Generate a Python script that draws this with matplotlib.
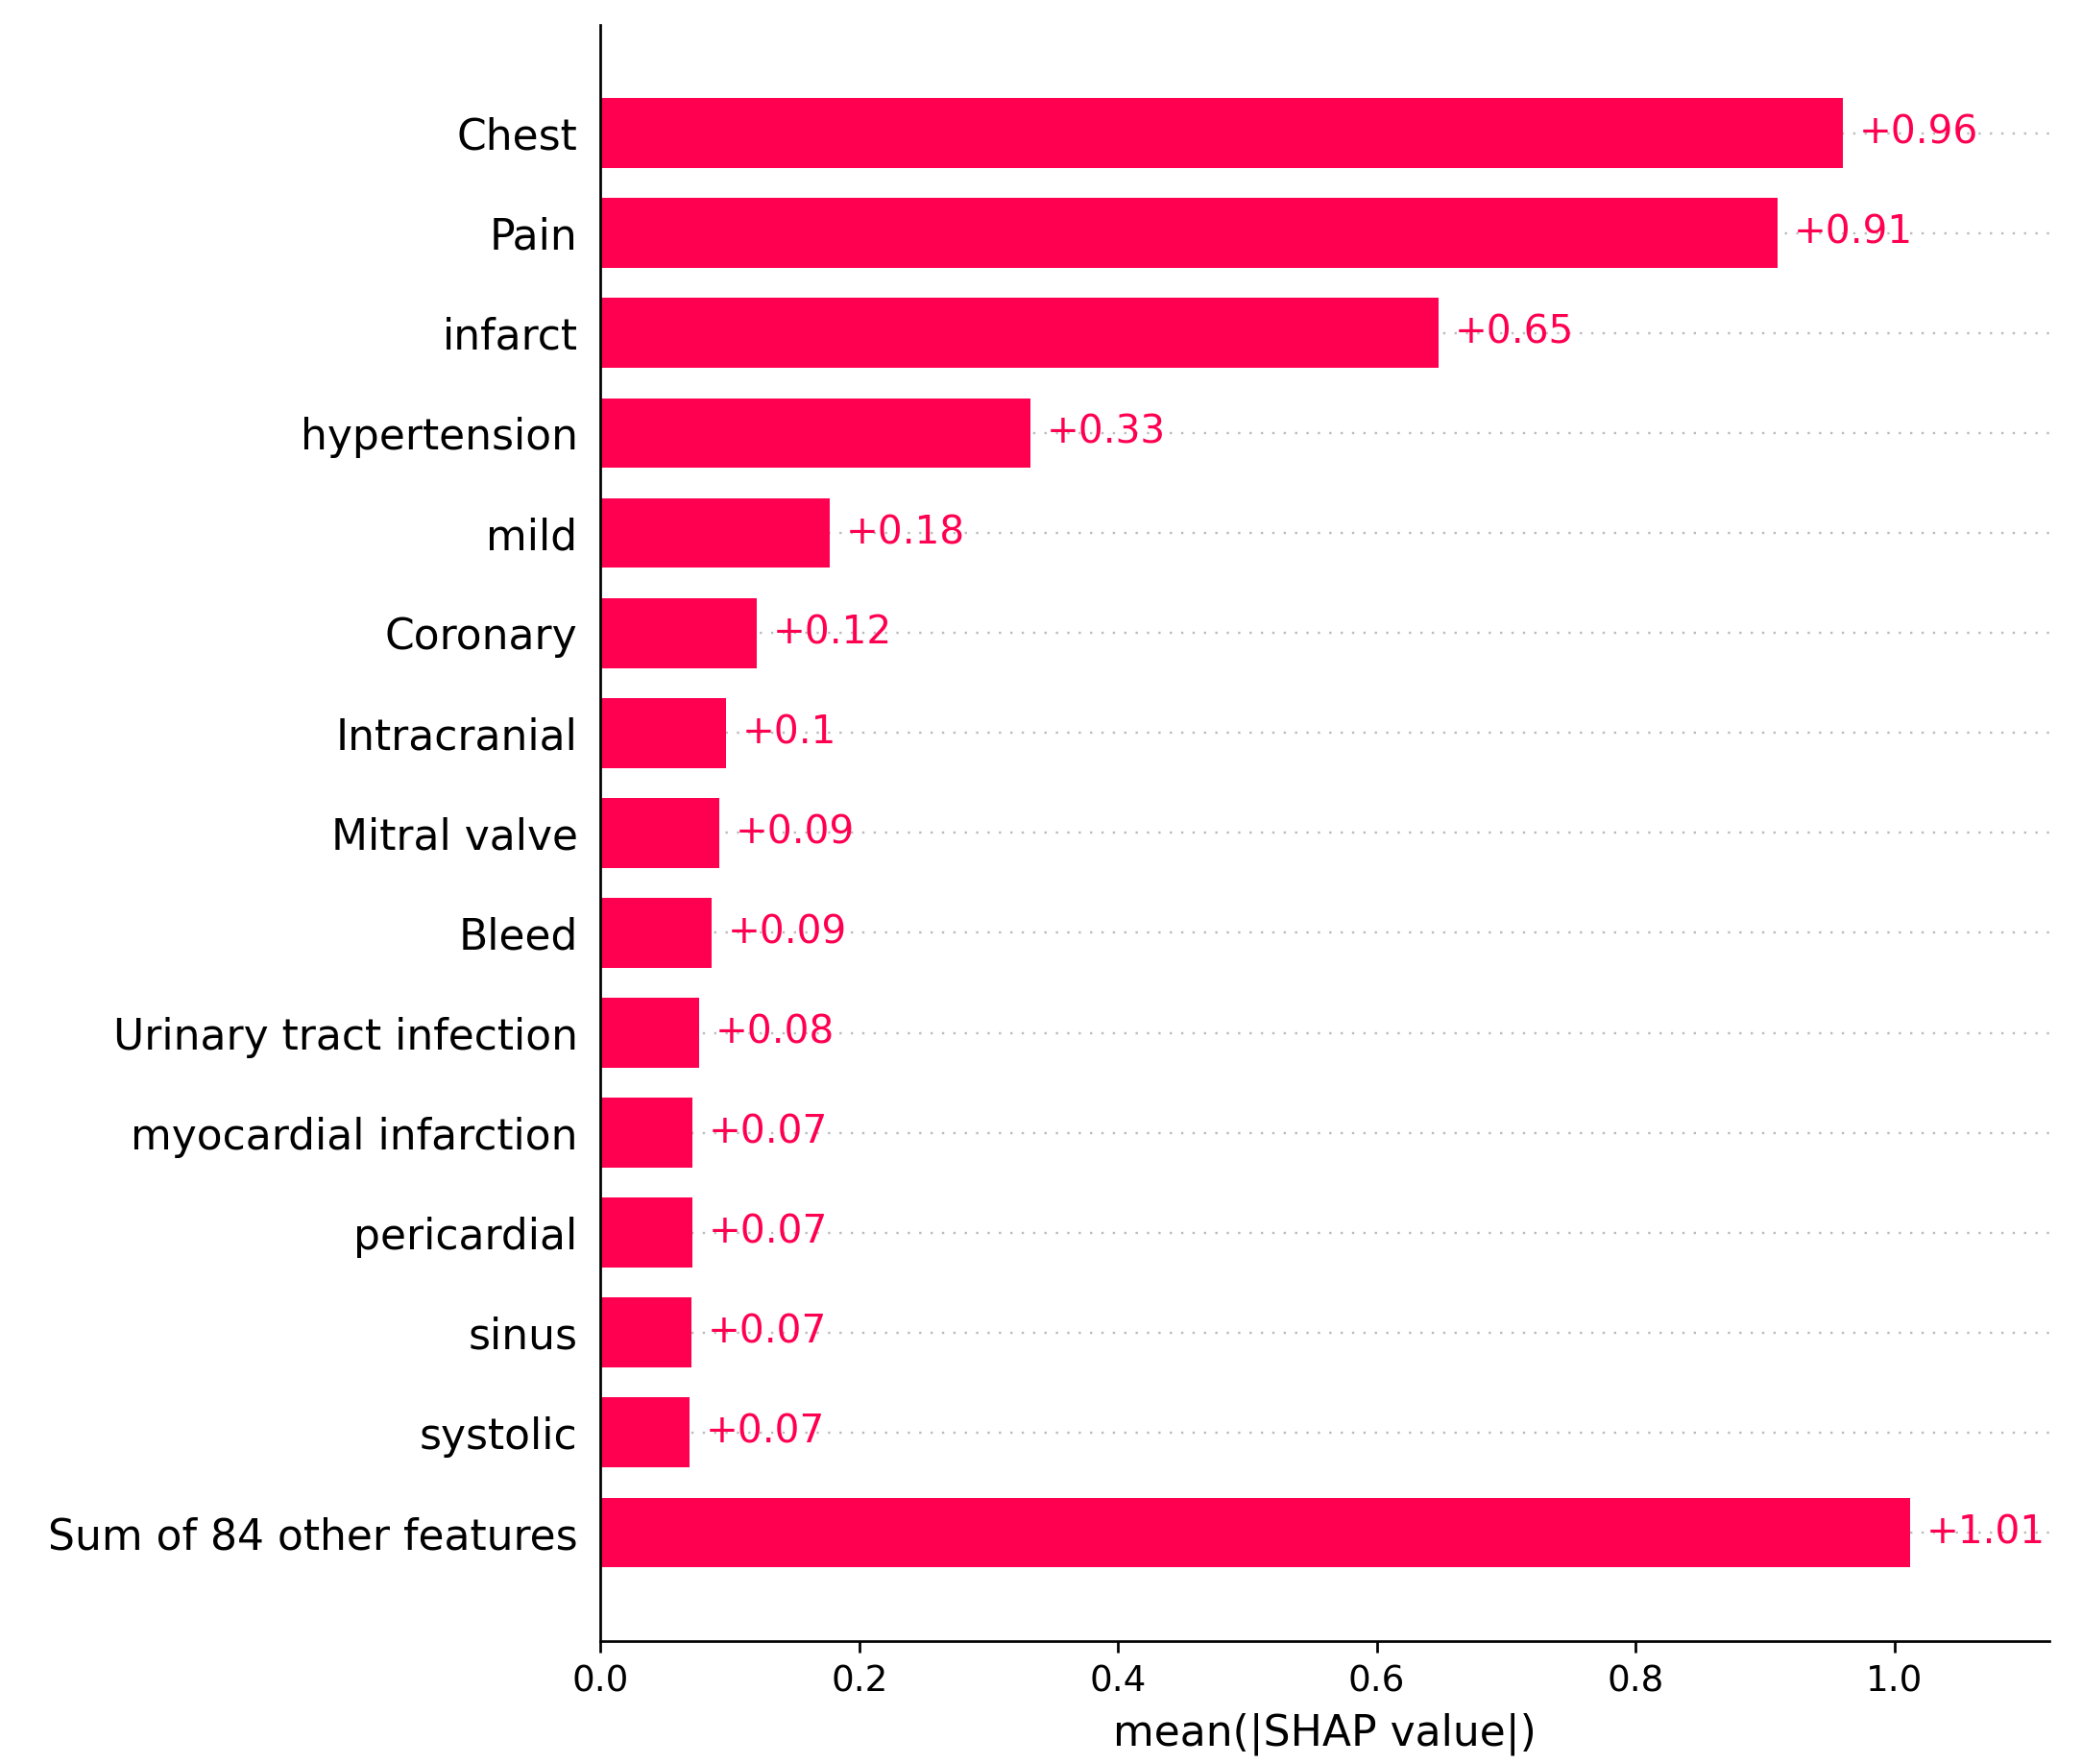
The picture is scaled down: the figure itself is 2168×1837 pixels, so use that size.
import numpy as np
import matplotlib.pyplot as plt
import matplotlib.transforms as mtransforms

features = ['Chest', 'Pain', 'infarct', 'hypertension', 'mild', 'Coronary',
            'Intracranial', 'Mitral valve', 'Bleed', 'Urinary tract infection',
            'myocardial infarction', 'pericardial', 'sinus', 'systolic',
            'Sum of 84 other features']
values = [0.960, 0.910, 0.648, 0.332, 0.177, 0.121, 0.097, 0.092, 0.086,
          0.076, 0.071, 0.071, 0.070, 0.069, 1.012]
value_labels = ['+0.96', '+0.91', '+0.65', '+0.33', '+0.18', '+0.12', '+0.1',
                '+0.09', '+0.09', '+0.08', '+0.07', '+0.07', '+0.07', '+0.07',
                '+1.01']

red = '#ff0051'
dpi = 244

fig = plt.figure(figsize=(2168 / dpi, 1837 / dpi), dpi=dpi)
ax = fig.add_axes([0.2884, 0.0697, 0.696, 0.9163])

y_pos = np.arange(len(features), 0, -1)
for y in y_pos:
    ax.axhline(y, color='#bbbbbb', lw=0.7, dashes=(1, 4), zorder=-1)

ax.barh(y_pos, values, 0.7, align='center', color=red, lw=0)

# labels sit 5pt to the right of each bar end
offset = mtransforms.offset_copy(ax.transData, fig=fig, x=5 / 72, y=0, units='inches')
for y, v, lab in zip(y_pos, values, value_labels):
    ax.text(v, y, lab, transform=offset, ha='left', va='center', color=red, fontsize=12)

ax.set_yticks(y_pos)
ax.set_yticklabels(features, fontsize=13)
ax.yaxis.set_ticks_position('none')
ax.xaxis.set_ticks_position('bottom')
ax.spines['right'].set_visible(False)
ax.spines['top'].set_visible(False)
ax.tick_params(axis='x', labelsize=11)
ax.set_xlim(0, 1.12)
ax.set_xlabel('mean(|SHAP value|)', fontsize=13)

fig.savefig('out.png', dpi=dpi)
